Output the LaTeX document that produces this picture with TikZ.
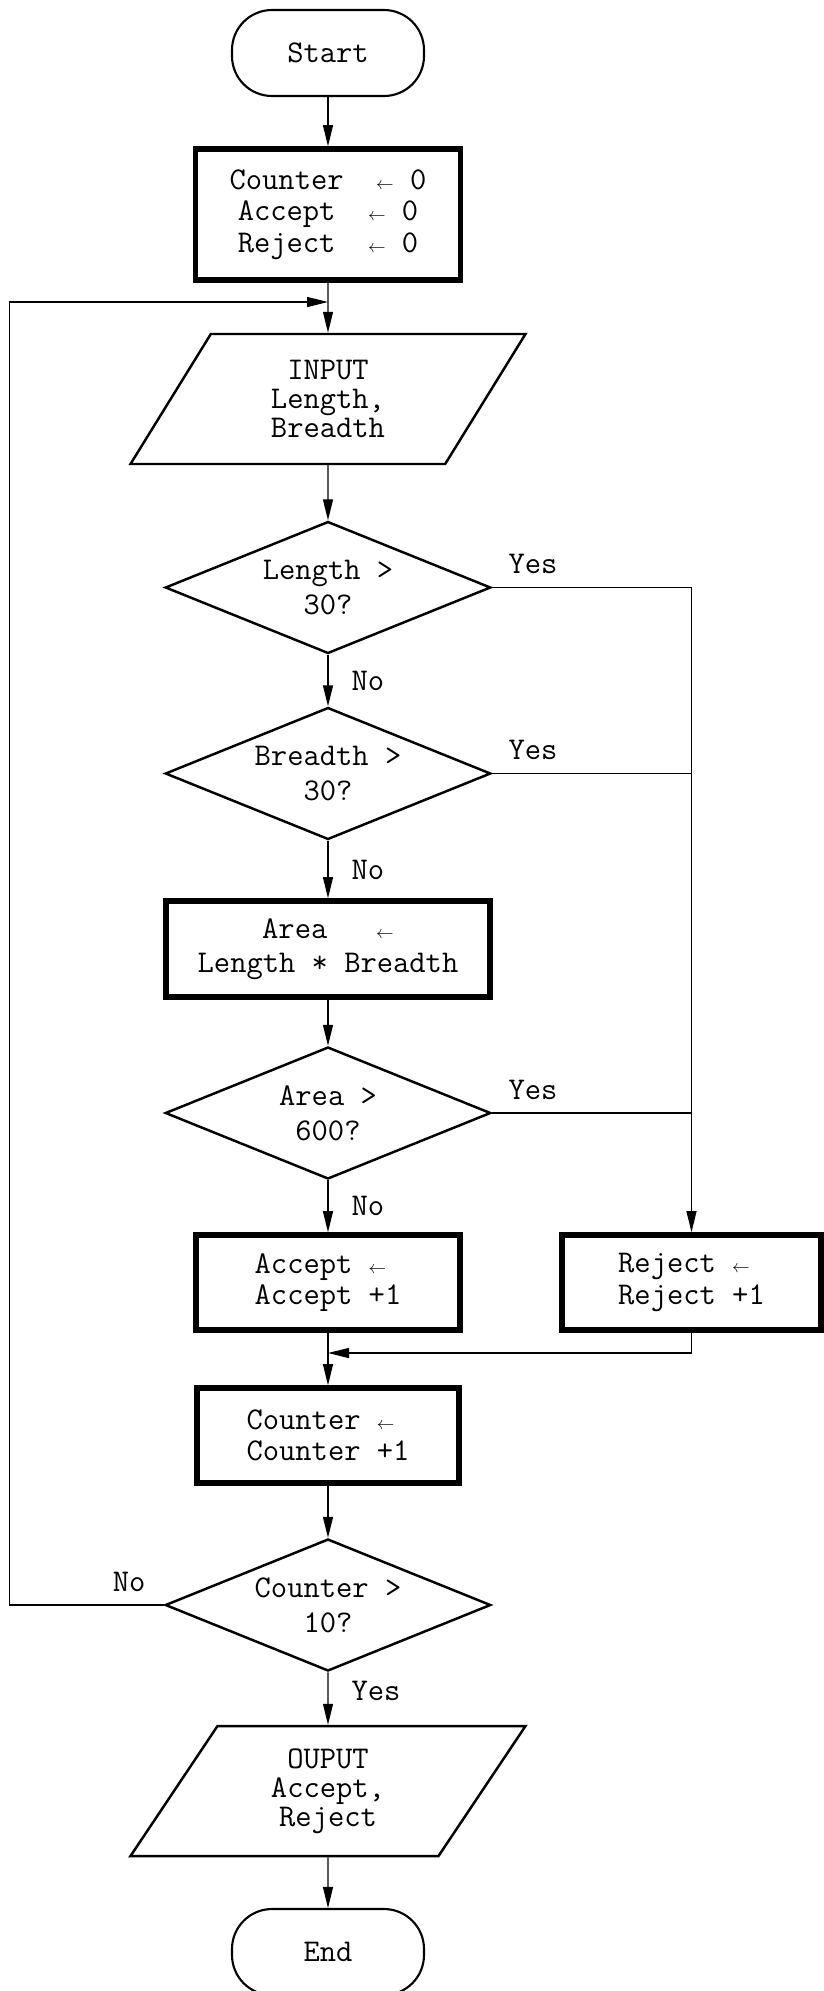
\documentclass[tikz,border=0pt]{standalone}
\usepackage{fontspec}
\usepackage{tikz}
\usetikzlibrary{shapes.geometric, arrows.meta}
\newcommand{\asgn}{{\fontsize{10}{10}\selectfont$\leftarrow$}}
\tikzstyle{terminal} = [rectangle, rounded corners=0.8cm, draw, line width=1.2pt, minimum width=3.84cm, minimum height=1.72cm]
\tikzstyle{process} = [rectangle, draw, line width=3.2pt, minimum height=1.9cm, align=center]
\tikzstyle{io} = [trapezium, trapezium left angle=48, trapezium right angle=132, trapezium stretches body=true, draw, line width=1.4pt, minimum width=7.9cm, minimum height=2.6cm, align=center, font=\ttfamily\fontsize{18}{16.5}\selectfont]
\tikzstyle{decision} = [diamond, aspect=2.47, draw, line width=1.4pt, minimum width=6.51cm, minimum height=2.64cm, inner sep=0pt, align=center, font=\ttfamily\fontsize{18}{20}\selectfont]
\tikzstyle{arrow} = [line width=0.7pt, -{Triangle[length=0.42cm, width=0.2cm]}]
\tikzstyle{lbl} = [inner sep=0pt]

\begin{document}
\begin{tikzpicture}[node distance=3.5cm, font=\ttfamily\fontsize{18}{18}\selectfont]
  \useasboundingbox (0,0) rectangle (16.48,-39.82);
  \node (start) [terminal] at (6.56,-1.06) {Start};
  \node (init) [process, below of=start, node distance=3.23cm, minimum width=5.3cm, minimum height=2.62cm] {Counter\ \ \asgn\ 0\\Accept\ \ \asgn\ 0\\Reject\ \ \asgn\ 0};
  \coordinate [below of=init, node distance=1.75cm] (loopin);
  \node (input) [io, below of=init, node distance=3.69cm] {INPUT\\Length,\\Breadth};
  \node (d1) [decision, below of=input, node distance=3.77cm] {Length >\\30?};
  \node (d2) [decision, below of=d1, node distance=3.72cm] {Breadth >\\30?};
  \node (area) [process, below of=d2, node distance=3.51cm, minimum width=6.48cm, minimum height=1.92cm, font=\ttfamily\fontsize{18}{19.4}\selectfont] {Area\ \ \ \asgn\\Length * Breadth};
  \node (d3) [decision, below of=area, node distance=3.28cm] {Area >\\600?};
  \node (accept) [process, below of=d3, node distance=3.39cm, minimum width=5.28cm, align=left] {Accept \asgn\\Accept +1};
  \node (reject) [process, right of=accept, node distance=7.27cm, minimum width=5.18cm, align=left] {Reject \asgn\\Reject +1};
  \coordinate [below of=accept, node distance=1.41cm] (merge);
  \node (counter) [process, below of=accept, node distance=3.06cm, minimum width=5.24cm, align=left] {Counter \asgn\\Counter +1};
  \node (d4) [decision, below of=counter, node distance=3.39cm] {Counter >\\10?};
  \node (output) [io, below of=d4, node distance=3.72cm] {OUPUT\\Accept,\\Reject};
  \node (end) [terminal, below of=output, node distance=3.22cm] {End};
  \coordinate (loopx) at (0.19,0);

  \draw[arrow] (start) -- (init);
  \draw[arrow] (init) -- (input);
  \draw[arrow] (input) -- (d1);
  \draw[arrow] (d1) -- node[lbl, right, xshift=0.46cm] {No} (d2);
  \draw[arrow] (d2) -- node[lbl, right, xshift=0.46cm] {No} (area);
  \draw[arrow] (area) -- (d3);
  \draw[arrow] (d3) -- node[lbl, right, xshift=0.46cm] {No} (accept);
  \draw[arrow] (accept) -- (counter);
  \draw[arrow] (counter) -- (d4);
  \draw[arrow] (d4) -- node[lbl, right, xshift=0.46cm, yshift=0.16cm] {Yes} (output);
  \draw[arrow] (output) -- (end);
  \draw[arrow] (d1.east) node[lbl, anchor=south west, xshift=0.32cm, yshift=0.26cm] {Yes} -| (reject);
  \draw[line width=0.7pt] (d2.east) node[lbl, anchor=south west, xshift=0.32cm, yshift=0.26cm] {Yes} -- (d2.east -| reject);
  \draw[line width=0.7pt] (d3.east) node[lbl, anchor=south west, xshift=0.32cm, yshift=0.26cm] {Yes} -- (d3.east -| reject);
  \draw[arrow] (reject) |- (merge);
  \draw[arrow] (d4.west) node[lbl, anchor=south east, xshift=-0.36cm, yshift=0.26cm] {No} -- (d4.west -| loopx) |- (loopin);
\end{tikzpicture}
\end{document}
